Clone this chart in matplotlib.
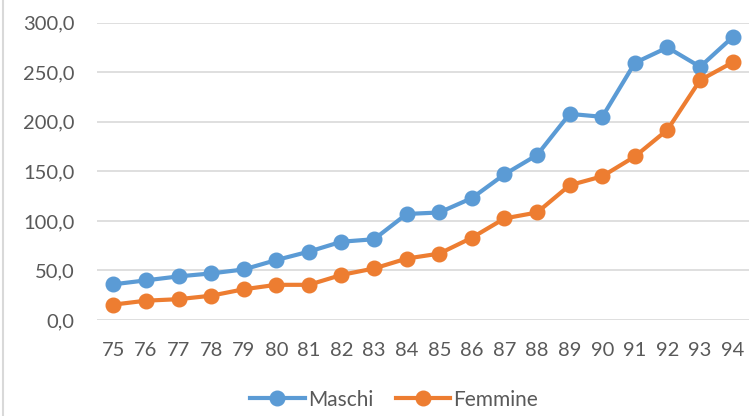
import numpy as np
import matplotlib.pyplot as plt
from matplotlib.lines import Line2D

# Data
years = ['75', '76', '77', '78', '79', '80', '81', '82', '83', '84',
         '85', '86', '87', '88', '89', '90', '91', '92', '93', '94']
maschi = [36, 40, 44, 47, 51, 60.5, 69, 79, 81.5, 107,
          108.5, 123, 147, 166.5, 208, 205, 259.5, 275, 255.5, 285.5]
femmine = [15.5, 19.5, 21, 24.5, 31, 35.5, 35.5, 45.5, 52, 62,
           67, 83, 102.5, 108.5, 136, 145, 165, 192, 242, 260]

plt.rcParams['font.family'] = ['Lato', 'DejaVu Sans']

myFig = plt.figure(figsize=[7.55, 4.16], dpi=100)
ax = myFig.add_axes([97/755, 1 - 320/416, (749 - 97)/755, (320 - 22.7)/416])

xPos = np.arange(len(years))
ax.plot(xPos, maschi, color='#5B9BD5', lw=3, marker='o', ms=10.5, label='Maschi', zorder=3)
ax.plot(xPos, femmine, color='#ED7D31', lw=3, marker='o', ms=10.5, label='Femmine', zorder=3)

ax.set_xlim(-0.5, len(years) - 0.5)
ax.set_ylim(0, 300)
ax.set_yticks(np.arange(0, 301, 50))
ax.set_yticklabels([('%.1f' % v).replace('.', ',') for v in np.arange(0, 301, 50)])
ax.set_xticks(xPos)
ax.set_xticklabels(years)

ax.grid(axis='y', color='#D9D9D9', lw=1.2)
ax.set_axisbelow(True)
for s in ax.spines.values():
    s.set_visible(False)
ax.tick_params(length=0, labelsize=14.5, colors='#595959')
ax.tick_params(axis='y', pad=16)
ax.tick_params(axis='x', pad=16)

myFig.legend(loc='lower center', ncol=2, frameon=False, fontsize=15,
             labelcolor='#595959', bbox_to_anchor=(0.522, -0.03),
             handlelength=2.6, handletextpad=0.15, columnspacing=1.1)

# chart border (left edge visible)
myFig.add_artist(Line2D([3/755, 3/755], [0, 1], color='#D9D9D9', lw=1.5, transform=myFig.transFigure))

plt.savefig('out.png', dpi=100)
